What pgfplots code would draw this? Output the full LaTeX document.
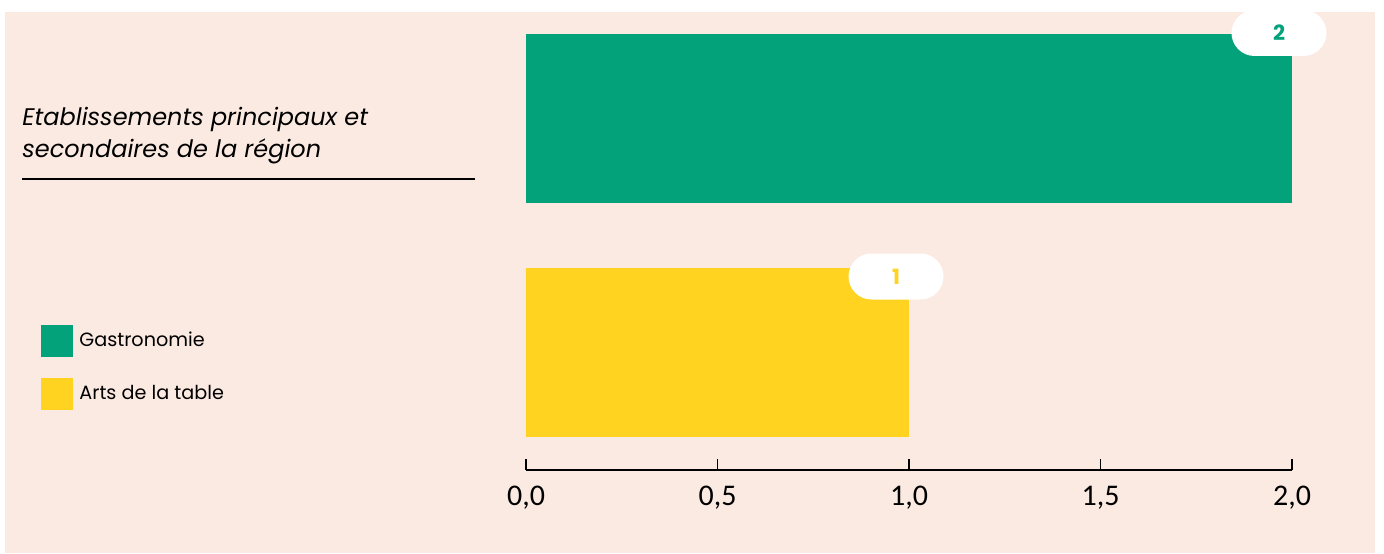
\documentclass[border=0pt]{standalone}
\usepackage{fontspec}
\usepackage{pgfplots}
\pgfplotsset{compat=1.18}
\setmainfont{Poppins}
\newfontfamily\carlito{Carlito}
\definecolor{peach}{HTML}{FBEAE1}
\definecolor{gr}{HTML}{03A27B}
\definecolor{ye}{HTML}{FFD31F}
\begin{document}
\begin{tikzpicture}
\fill[white] (0,0) rectangle (692pt,276.5pt);
\fill[peach] (2.5pt,0) rectangle (687.5pt,270.5pt);
% title
\node[anchor=base west,inner sep=0,font=\fontsize{12}{14}\selectfont\itshape] at (11pt,214pt) {Etablissements principaux et};
\node[anchor=base west,inner sep=0,font=\fontsize{12}{14}\selectfont\itshape] at (11pt,198pt) {secondaires de la région};
\draw[line width=1pt] (11pt,187pt) -- (237.5pt,187pt);
% legend
\fill[gr] (20.5pt,98pt) rectangle (36.5pt,114pt);
\fill[ye] (20.5pt,71.5pt) rectangle (36.5pt,87.5pt);
\node[anchor=base west,inner sep=0,font=\fontsize{9.6}{12}\selectfont] at (39.5pt,103.5pt) {Gastronomie};
\node[anchor=base west,inner sep=0,font=\fontsize{9.6}{12}\selectfont] at (39.5pt,77pt) {Arts de la table};
\begin{axis}[
  at={(263pt,41.5pt)}, anchor=origin,
  scale only axis, width=383pt, height=229pt,
  xmin=0, xmax=2, ymin=0, ymax=458,
  clip=false,
  axis x line*=bottom, axis y line=none,
  x axis line style={line width=0.6pt},
  xtick={0,0.5,1,1.5,2},
  tick align=inside, major tick length=5.5pt,
  every tick/.style={black, line width=0.6pt},
  /pgf/number format/assume math mode=true,
  xticklabel style={font=\carlito\fontsize{15}{18}\selectfont, anchor=base, yshift=-17.5pt,
    /pgf/number format/.cd, fixed, fixed zerofill, precision=1, use comma},
  xbar, bar width=84.5pt, bar shift=0pt,
  nodes near coords,
  every node near coord/.style={anchor=center, fill=white, inner sep=0pt,
    minimum width=47.5pt, minimum height=23pt, rounded corners=11.5pt,
    font=\fontsize{10.5}{13}\selectfont\bfseries},
]
\addplot[fill=gr, draw=none, every node near coord/.append style={text=gr, xshift=-6.5pt, yshift=42.75pt}] coordinates {(2,351.5)};
\addplot[fill=ye, draw=none, every node near coord/.append style={text=ye, xshift=-6.5pt, yshift=38pt}] coordinates {(1,117.5)};
\end{axis}
\pgfresetboundingbox
\path[use as bounding box] (0,0) rectangle (692pt,276.5pt);
\end{tikzpicture}
\end{document}
